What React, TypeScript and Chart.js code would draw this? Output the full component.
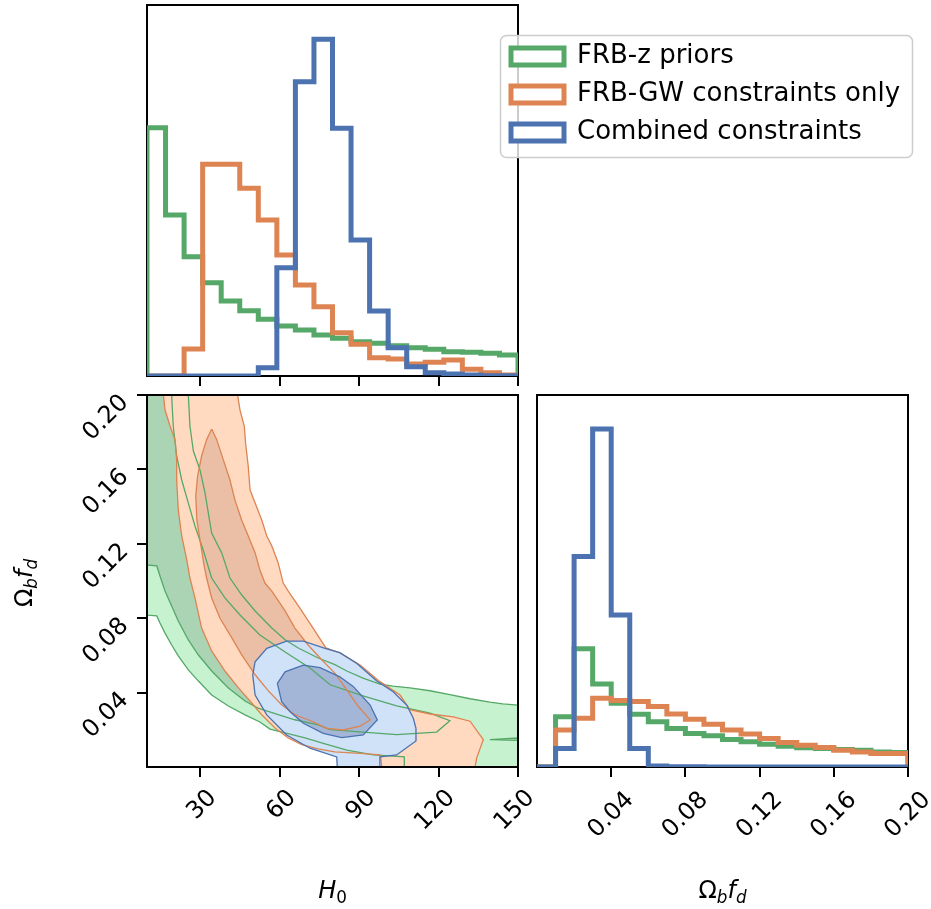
import { useEffect, useRef } from 'react';
import { Chart, registerables } from 'chart.js';

Chart.register(...registerables);
Chart.defaults.font.family = "'DejaVu Sans', sans-serif";
Chart.defaults.color = '#000';

// ---------- series ----------
const SERIES_LABELS = ['FRB-z priors', 'FRB-GW constraints only', 'Combined constraints'];
const LINE_COLORS = ['#55a868', '#dd8452', '#4c72b0'];
const OUTER_FILLS = ['#c6f2d0', '#ffdac1', '#cfe2f8'];
const INNER_FILLS = ['#aad4b4', '#eabfa6', '#a4b6d7'];

// ---------- H0 marginal ----------
const H0_BIN_EDGES = [10, 17, 24, 31, 38, 45, 52, 59, 66, 73, 80, 87, 94, 101, 108, 115, 122, 129, 136, 143, 150];
const H0_PRIOR = [745, 483, 358, 280, 225, 196, 170, 150, 138, 123, 113, 103, 98, 91, 85, 80, 73, 71, 68, 63];
const H0_GW = [0, 0, 81, 635, 635, 563, 468, 363, 273, 208, 130, 95, 55, 51, 36, 41, 48, 20, 10, 3];
const H0_COMBINED = [0, 0, 0, 0, 0, 0, 25, 325, 883, 1010, 743, 408, 195, 85, 28, 10, 6, 3, 1, 1];
const H0_HIST_TOP = 1113;
const H0_RANGE = [10, 150];
const H0_TICKS = [30, 60, 90, 120, 150];
const H0_TICK_LABELS = ['30', '60', '90', '120', '150'];

// ---------- Omega_b f_d marginal ----------
const OMEGA_BIN_EDGES = [0, 0.01, 0.02, 0.03, 0.04, 0.05, 0.06, 0.07, 0.08, 0.09, 0.1, 0.11, 0.12, 0.13, 0.14, 0.15, 0.16, 0.17, 0.18, 0.19, 0.2];
const OMEGA_PRIOR = [0, 150, 352, 247, 190, 157, 135, 115, 100, 93, 82, 75, 68, 62, 57, 55, 52, 50, 45, 43];
const OMEGA_GW = [0, 110, 145, 205, 198, 195, 180, 158, 142, 127, 110, 98, 85, 73, 65, 58, 50, 45, 40, 40];
const OMEGA_COMBINED = [0, 55, 627, 1007, 453, 55, 3, 1, 1, 0, 0, 0, 0, 0, 0, 0, 0, 0, 0, 0];
const OMEGA_HIST_TOP = 1108;
const OMEGA_RANGE = [0, 0.2];
const OMEGA_TICKS = [0.04, 0.08, 0.12, 0.16, 0.2];
const OMEGA_TICK_LABELS = ['0.04', '0.08', '0.12', '0.16', '0.20'];

// ---------- joint credible regions, vertices as [H0, Omega_b f_d] ----------
const PRIOR_OUTER: [number, number][] = [
  [10, 0.2], [25.6, 0.2], [26.2, 0.1833], [27.5, 0.1699], [30.0, 0.1597], [31.9, 0.1473], [34.4, 0.1258],
  [38.2, 0.1151], [41.3, 0.1016], [45.7, 0.0926], [50.8, 0.0839], [57.1, 0.0747], [62.1, 0.0684],
  [67.1, 0.064], [74.6, 0.0586], [80.9, 0.055], [85.4, 0.0516], [91.5, 0.0478], [97.9, 0.0446],
  [102.8, 0.0435], [109.2, 0.0425], [116.8, 0.041], [124.3, 0.0389], [131.9, 0.0367], [139.4, 0.0349],
  [144.3, 0.0339], [150, 0.0333], [150, 0], [107.1, 0], [107.1, 0.0054], [95.4, 0.0065], [85.4, 0.0091],
  [77.2, 0.0124], [69.6, 0.0156], [62.1, 0.0183], [56.4, 0.0204], [52.6, 0.0242], [47.0, 0.028],
  [40.7, 0.0328], [34.4, 0.0387], [29.4, 0.0462], [25.6, 0.0522], [21.8, 0.0597], [19.3, 0.0656],
  [16.8, 0.072], [14.9, 0.0774], [13.7, 0.0812], [10, 0.0817], [10, 0.2],
];
const PRIOR_INNER: [number, number][] = [
  [10, 0.2], [19.3, 0.2], [19.9, 0.1833], [21.2, 0.1672], [23.1, 0.1543], [25.6, 0.1419], [28.1, 0.1296],
  [31.2, 0.1167], [34.4, 0.1016], [39.4, 0.0909], [45.1, 0.0817], [52.6, 0.071], [62.1, 0.0618],
  [71.5, 0.0532], [79.1, 0.0442], [91.5, 0.0382], [104.2, 0.0328], [116.8, 0.029], [124.3, 0.0249],
  [119.3, 0.0188], [104.2, 0.0174], [91.5, 0.0188], [79.1, 0.0201], [74.6, 0.0227], [65.8, 0.0254],
  [59.5, 0.0281], [51.9, 0.0317], [47.0, 0.0355], [40.7, 0.0425], [34.4, 0.0516], [29.4, 0.0602],
  [25.6, 0.0683], [21.8, 0.0785], [19.3, 0.0866], [16.8, 0.0946], [14.9, 0.1027], [13.7, 0.1081],
  [10, 0.1086], [10, 0.2],
];
const PRIOR_INNER_TAIL: [number, number][] = [
  [139.4, 0.0147], [150, 0.0156], [150, 0.0143], [139.4, 0.0147],
];
const GW_OUTER: [number, number][] = [
  [16.2, 0.2], [44.2, 0.2], [45.1, 0.1919], [46.7, 0.1833], [47.2, 0.1742], [48.2, 0.1618], [48.9, 0.1489],
  [50.8, 0.1419], [53.3, 0.1328], [55.2, 0.1242], [57.1, 0.1188], [59.5, 0.1097], [61.4, 0.0989],
  [63.3, 0.0946], [68.4, 0.0839], [73.4, 0.0731], [77.5, 0.064], [82.8, 0.0613], [90.4, 0.0548],
  [97.9, 0.0459], [105.5, 0.0387], [109.2, 0.0308], [116.8, 0.0285], [125.6, 0.027], [131.9, 0.0246],
  [136.9, 0.0147], [134.4, 0.0048], [133.8, 0], [98.6, 0], [98.2, 0.0048], [97.9, 0.0065], [90.4, 0.0073],
  [80.9, 0.0081], [74.5, 0.0097], [68.4, 0.012], [63.3, 0.0156], [58.3, 0.021], [53.3, 0.0281],
  [49.5, 0.0344], [44.5, 0.0425], [39.4, 0.0516], [34.4, 0.0624], [30.6, 0.0747], [28.1, 0.0909],
  [26.2, 0.1016], [25.0, 0.1113], [23.1, 0.1242], [21.8, 0.1382], [21.2, 0.1543], [21.2, 0.1651],
  [20.6, 0.1758], [18.7, 0.1833], [16.8, 0.1919], [16.2, 0.2],
];
const GW_INNER: [number, number][] = [
  [34.4, 0.1817], [36.3, 0.176], [38.8, 0.1651], [41.3, 0.1543], [43.2, 0.1435], [45.7, 0.1328],
  [48.2, 0.1242], [50.8, 0.1151], [52.6, 0.1059], [54.5, 0.0989], [57.1, 0.0946], [62.1, 0.0839],
  [65.8, 0.0747], [70.8, 0.0656], [76.0, 0.0575], [80.9, 0.0505], [85.4, 0.0414], [89.6, 0.0328],
  [94.2, 0.0253], [90.4, 0.022], [84.1, 0.0199], [77.8, 0.0208], [72.2, 0.0246], [65.8, 0.0281],
  [60.8, 0.0335], [55.8, 0.0409], [50.8, 0.0496], [45.7, 0.0604], [42.0, 0.0694], [37.5, 0.0801],
  [34.4, 0.0909], [32.5, 0.1016], [31.5, 0.1086], [30.0, 0.122], [28.8, 0.133], [28.4, 0.1457],
  [29.1, 0.1565], [30.6, 0.1672], [32.5, 0.176], [34.4, 0.1817],
];
const COMBINED_OUTER: [number, number][] = [
  [62.7, 0.0677], [69.0, 0.0677], [77.2, 0.0638], [82.8, 0.0615], [89.1, 0.0558], [96.7, 0.0462],
  [102.9, 0.0405], [108.0, 0.0333], [110.5, 0.0262], [111.5, 0.0208], [111.5, 0.014], [104.2, 0.0065],
  [97.9, 0.0055], [97.9, 0], [81.8, 0], [81.6, 0.0054], [71.5, 0.0101], [62.7, 0.0172], [55.2, 0.028],
  [50.8, 0.0387], [49.9, 0.0495], [50.8, 0.0566], [55.2, 0.0638], [62.7, 0.0677],
];
const COMBINED_INNER: [number, number][] = [
  [69.0, 0.0548], [75.3, 0.0534], [82.8, 0.0485], [87.9, 0.0432], [94.2, 0.0333], [96.9, 0.0253],
  [91.6, 0.0172], [83.5, 0.0158], [76.5, 0.0181], [69.0, 0.0235], [64.0, 0.0297], [60.8, 0.0351],
  [59.2, 0.045], [62.1, 0.0512], [69.0, 0.0548],
];

// ---------- page geometry ----------
const W = 931;
const H = 909;
const TOP_PANEL = { left: 147, top: 5, right: 518, bottom: 376 };
const JOINT_PANEL = { left: 147, top: 395, right: 518, bottom: 767 };
const SIDE_PANEL = { left: 537, top: 395, right: 908, bottom: 767 };
const TICK_LEN = 10;
const AXIS_BOX = 100;
const TICK_FONT = { size: 24 };
const LEGEND_FRAME = { x: 500.5, y: 35.5, w: 412, h: 122, r: 6 };

type Piece = { text: string; italic?: boolean; sub?: boolean };
const H0_TITLE: Piece[] = [{ text: 'H', italic: true }, { text: '0', sub: true }];
const OMEGA_TITLE: Piece[] = [
  { text: 'Ω' }, { text: 'b', italic: true, sub: true }, { text: 'f', italic: true }, { text: 'd', italic: true, sub: true },
];

// ---------- helpers ----------
const stepOutline = (edges: number[], counts: number[]) => {
  const pts = [{ x: edges[0], y: 0 }];
  counts.forEach((c, i) => pts.push({ x: edges[i], y: c }));
  pts.push({ x: edges[edges.length - 1], y: 0 });
  return pts;
};
const toPoints = (poly: [number, number][]) => poly.map(([x, y]) => ({ x, y }));

function histDataset(label: string, color: string, edges: number[], counts: number[], order: number) {
  return {
    label,
    data: stepOutline(edges, counts),
    stepped: 'before' as const,
    borderColor: color,
    backgroundColor: '#ffffff',
    borderWidth: 5,
    borderJoinStyle: 'miter' as const,
    fill: false,
    pointRadius: 0,
    order,
  };
}

function drawMath(ctx: CanvasRenderingContext2D, pieces: Piece[], cx: number, baseline: number, size: number) {
  const sub = size * 0.7;
  const fontOf = (p: Piece) => `${p.italic ? 'italic ' : ''}${p.sub ? sub : size}px 'DejaVu Sans'`;
  const widths = pieces.map((p) => {
    ctx.font = fontOf(p);
    return ctx.measureText(p.text).width;
  });
  let x = cx - widths.reduce((a, b) => a + b, 0) / 2;
  ctx.fillStyle = '#000';
  ctx.textAlign = 'left';
  ctx.textBaseline = 'alphabetic';
  pieces.forEach((p, i) => {
    ctx.font = fontOf(p);
    ctx.fillText(p.text, x, baseline + (p.sub ? size * 0.22 : 0));
    x += widths[i];
  });
}

function strokeFrame(chart: Chart) {
  const { ctx, chartArea: a } = chart;
  ctx.save();
  ctx.strokeStyle = '#000';
  ctx.lineWidth = 2;
  ctx.strokeRect(a.left, a.top, a.right - a.left, a.bottom - a.top);
  ctx.restore();
}

const fixedTicks = (values: number[]) => (scale: any) => {
  scale.ticks = values.map((value) => ({ value }));
};
const fixedBox = (size: number) => (scale: any) => {
  if (scale.isHorizontal()) scale.height = size;
  else scale.width = size;
  scale.paddingLeft = 0;
  scale.paddingRight = 0;
  scale.paddingTop = 0;
  scale.paddingBottom = 0;
};
const tickGrid = { drawOnChartArea: false, color: '#000', lineWidth: 2, tickLength: TICK_LEN };

// ---------- chart configurations ----------
function topConfig(): any {
  return {
    type: 'line',
    data: {
      datasets: [
        histDataset(SERIES_LABELS[0], LINE_COLORS[0], H0_BIN_EDGES, H0_PRIOR, 3),
        histDataset(SERIES_LABELS[1], LINE_COLORS[1], H0_BIN_EDGES, H0_GW, 2),
        histDataset(SERIES_LABELS[2], LINE_COLORS[2], H0_BIN_EDGES, H0_COMBINED, 1),
      ],
    },
    options: {
      responsive: false,
      animation: false,
      devicePixelRatio: 1,
      events: [],
      layout: {
        padding: { left: TOP_PANEL.left, top: TOP_PANEL.top, right: W - TOP_PANEL.right, bottom: H - TOP_PANEL.bottom - TICK_LEN },
      },
      scales: {
        x: {
          type: 'linear', min: H0_RANGE[0], max: H0_RANGE[1],
          afterBuildTicks: fixedTicks(H0_TICKS), afterFit: fixedBox(TICK_LEN),
          ticks: { display: false }, grid: tickGrid, border: { display: false },
        },
        y: { type: 'linear', display: false, min: 0, max: H0_HIST_TOP },
      },
      plugins: {
        tooltip: { enabled: false },
        legend: {
          position: 'chartArea',
          align: 'start',
          labels: {
            boxWidth: 53, boxHeight: 17, padding: 12, color: '#000', font: { size: 26 },
            sort: (a: any, b: any) => a.datasetIndex - b.datasetIndex,
          },
        },
      },
    },
    plugins: [
      {
        id: 'legendPlacement',
        afterLayout(chart: any) {
          const lg = chart.legend;
          if (!lg) return;
          lg.left = 499;
          lg.top = 31.5;
          lg.right = W;
          lg.bottom = H;
        },
        beforeDraw(chart: any) {
          strokeFrame(chart);
          const ctx = chart.ctx as CanvasRenderingContext2D;
          const { x, y, w, h, r } = LEGEND_FRAME;
          ctx.save();
          ctx.beginPath();
          ctx.moveTo(x + r, y);
          ctx.arcTo(x + w, y, x + w, y + h, r);
          ctx.arcTo(x + w, y + h, x, y + h, r);
          ctx.arcTo(x, y + h, x, y, r);
          ctx.arcTo(x, y, x + w, y, r);
          ctx.closePath();
          ctx.fillStyle = 'rgba(255,255,255,0.8)';
          ctx.fill();
          ctx.strokeStyle = '#cccccc';
          ctx.lineWidth = 1.5;
          ctx.stroke();
          ctx.restore();
        },
      },
    ],
  };
}

function jointConfig(): any {
  const regions: [number, number][][][] = [
    [PRIOR_OUTER, PRIOR_INNER, PRIOR_INNER_TAIL],
    [GW_OUTER, GW_INNER],
    [COMBINED_OUTER, COMBINED_INNER],
  ];
  const fills: any[] = [];
  const lines: any[] = [];
  regions.forEach((set, s) => {
    set.forEach((poly, k) => {
      fills.push({
        data: toPoints(poly), fill: 'shape', backgroundColor: k === 0 ? OUTER_FILLS[s] : INNER_FILLS[s],
        borderColor: 'rgba(0,0,0,0)', borderWidth: 0, pointRadius: 0,
      });
      lines.push({
        data: toPoints(poly), fill: false, borderColor: LINE_COLORS[s], borderWidth: 1.3, pointRadius: 0,
      });
    });
  });
  const all = [...fills, ...lines];
  all.forEach((d, i) => { d.order = all.length - i; });
  return {
    type: 'line',
    data: { datasets: all },
    options: {
      responsive: false,
      animation: false,
      devicePixelRatio: 1,
      events: [],
      layout: {
        padding: { left: JOINT_PANEL.left - AXIS_BOX, top: JOINT_PANEL.top, right: W - JOINT_PANEL.right, bottom: H - JOINT_PANEL.bottom - AXIS_BOX },
      },
      scales: {
        x: {
          type: 'linear', min: H0_RANGE[0], max: H0_RANGE[1],
          afterBuildTicks: fixedTicks(H0_TICKS), afterFit: fixedBox(AXIS_BOX),
          ticks: {
            font: TICK_FONT, minRotation: 45, maxRotation: 45, autoSkip: false, padding: 7, labelOffset: 13,
            callback: (_v: any, i: number) => H0_TICK_LABELS[i],
          },
          grid: tickGrid, border: { display: false },
        },
        y: {
          type: 'linear', min: OMEGA_RANGE[0], max: OMEGA_RANGE[1],
          afterBuildTicks: fixedTicks(OMEGA_TICKS), afterFit: fixedBox(AXIS_BOX),
          ticks: {
            font: TICK_FONT, minRotation: 45, maxRotation: 45, autoSkip: false, padding: 12, labelOffset: 4,
            callback: (_v: any, i: number) => OMEGA_TICK_LABELS[i],
          },
          grid: tickGrid, border: { display: false },
        },
      },
      plugins: { legend: { display: false }, tooltip: { enabled: false } },
    },
    plugins: [
      {
        id: 'jointDecor',
        afterDatasetsDraw(chart: any) {
          strokeFrame(chart);
        },
        afterDraw(chart: any) {
          const ctx = chart.ctx as CanvasRenderingContext2D;
          const a = chart.chartArea;
          ctx.save();
          drawMath(ctx, H0_TITLE, (a.left + a.right) / 2, 898, 24);
          ctx.translate(32, (a.top + a.bottom) / 2 + 2);
          ctx.rotate(-Math.PI / 2);
          drawMath(ctx, OMEGA_TITLE, 0, 0, 24);
          ctx.restore();
        },
      },
    ],
  };
}

function sideConfig(): any {
  return {
    type: 'line',
    data: {
      datasets: [
        histDataset(SERIES_LABELS[0], LINE_COLORS[0], OMEGA_BIN_EDGES, OMEGA_PRIOR, 3),
        histDataset(SERIES_LABELS[1], LINE_COLORS[1], OMEGA_BIN_EDGES, OMEGA_GW, 2),
        histDataset(SERIES_LABELS[2], LINE_COLORS[2], OMEGA_BIN_EDGES, OMEGA_COMBINED, 1),
      ],
    },
    options: {
      responsive: false,
      animation: false,
      devicePixelRatio: 1,
      events: [],
      layout: {
        padding: { left: SIDE_PANEL.left, top: SIDE_PANEL.top, right: W - SIDE_PANEL.right, bottom: H - SIDE_PANEL.bottom - AXIS_BOX },
      },
      scales: {
        x: {
          type: 'linear', min: OMEGA_RANGE[0], max: OMEGA_RANGE[1],
          afterBuildTicks: fixedTicks(OMEGA_TICKS), afterFit: fixedBox(AXIS_BOX),
          ticks: {
            font: TICK_FONT, minRotation: 45, maxRotation: 45, autoSkip: false, padding: 9, labelOffset: 19,
            callback: (_v: any, i: number) => OMEGA_TICK_LABELS[i],
          },
          grid: tickGrid, border: { display: false },
        },
        y: { type: 'linear', display: false, min: 0, max: OMEGA_HIST_TOP },
      },
      plugins: { legend: { display: false }, tooltip: { enabled: false } },
    },
    plugins: [
      {
        id: 'sideDecor',
        beforeDraw(chart: any) {
          strokeFrame(chart);
        },
        afterDraw(chart: any) {
          const ctx = chart.ctx as CanvasRenderingContext2D;
          const a = chart.chartArea;
          ctx.save();
          drawMath(ctx, OMEGA_TITLE, (a.left + a.right) / 2, 898, 24);
          ctx.restore();
        },
      },
    ],
  };
}

export default function App() {
  const topRef = useRef<HTMLCanvasElement>(null);
  const jointRef = useRef<HTMLCanvasElement>(null);
  const sideRef = useRef<HTMLCanvasElement>(null);

  useEffect(() => {
    const charts = [
      new Chart(topRef.current!, topConfig()),
      new Chart(jointRef.current!, jointConfig()),
      new Chart(sideRef.current!, sideConfig()),
    ];
    return () => charts.forEach((c) => c.destroy());
  }, []);

  const layer = { position: 'absolute' as const, left: 0, top: 0 };
  return (
    <div style={{ position: 'absolute', left: 0, top: 0, width: W, height: H, overflow: 'hidden', background: '#fff' }}>
      <canvas ref={jointRef} width={W} height={H} style={layer} />
      <canvas ref={sideRef} width={W} height={H} style={layer} />
      <canvas ref={topRef} width={W} height={H} style={layer} />
    </div>
  );
}
